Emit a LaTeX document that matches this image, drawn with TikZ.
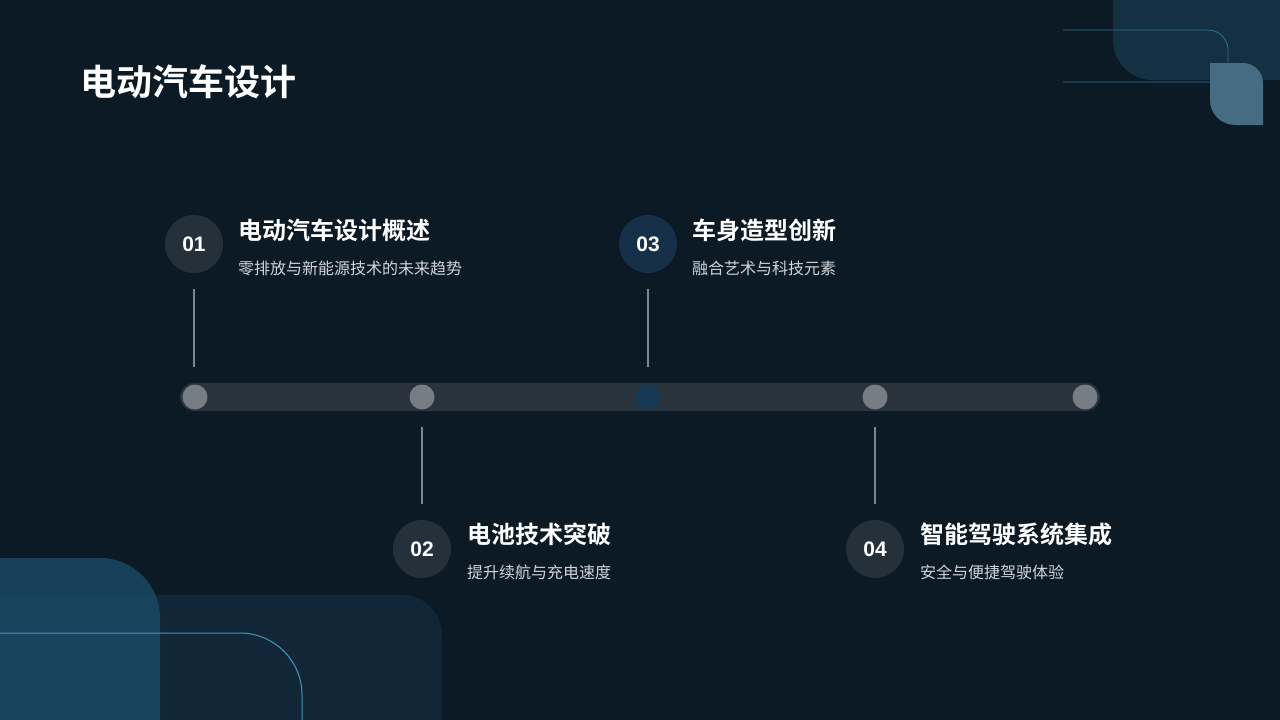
\documentclass[tikz,border=0pt]{standalone}
\usepackage{fontspec}
\setmainfont{Liberation Sans}
\newfontfamily\cjk{Noto Sans CJK SC}
\newfontfamily\cjkbold{Noto Sans CJK SC Bold}
\usetikzlibrary{positioning}
\definecolor{bgdark}{HTML}{0C1A25}
\definecolor{bardark}{HTML}{28333C}
\definecolor{dotgray}{HTML}{767D84}
\definecolor{dotblue}{HTML}{163A55}
\definecolor{numgray}{HTML}{25313A}
\definecolor{numblue}{HTML}{173049}
\definecolor{stemgray}{HTML}{7F868C}
\definecolor{subgray}{HTML}{D0D5DA}
\definecolor{decoA}{HTML}{1A4A66}
\definecolor{decoB}{HTML}{12293A}
\definecolor{decoline}{HTML}{4396C0}
\tikzset{
  numdot/.style={circle,minimum size=58pt,inner sep=0pt,text=white,font=\bfseries\fontsize{21}{21}\selectfont},
  bardot/.style={circle,minimum size=25pt,inner sep=0pt,fill=dotgray},
  itemtitle/.style={anchor=west,inner sep=0pt,text=white,font=\cjkbold\fontsize{24}{24}\selectfont},
  itemsub/.style={anchor=west,inner sep=0pt,text=subgray,font=\cjk\fontsize{16}{16}\selectfont},
  stem/.style={draw=stemgray,line width=1.2pt}
}
\begin{document}
\begin{tikzpicture}[x=1pt,y=-1pt]
				\fill[bgdark] (0,0) rectangle (1280,720);
				\useasboundingbox (0,0) rectangle (1280,720);
				
				% corner shapes
				\fill[decoB,opacity=0.9] (0,720) -- (0,595) -- (402,595) arc[start angle=-90,end angle=0,radius=40] -- (442,720) -- cycle;
				\fill[decoA,opacity=0.8] (0,720) -- (0,558) -- (100,558) arc[start angle=-90,end angle=0,radius=60] -- (160,720) -- cycle;
				\draw[decoline,line width=1pt] (0,633) -- (240,633) arc[start angle=-90,end angle=0,radius=62] -- (302,720);
				\fill[decoB!80!decoA] (1113,0) -- (1280,0) -- (1280,80) -- (1153,80) arc[start angle=90,end angle=180,radius=40] -- cycle;
				\fill[decoA!90!white!90] (1210,63) -- (1243,63) arc[start angle=-90,end angle=0,radius=20] -- (1263,125) -- (1235,125) arc[start angle=90,end angle=180,radius=25] -- cycle;
				\draw[decoline!70!bgdark,line width=0.8pt] (1063,82) -- (1228,82) -- (1228,50) arc[start angle=0,end angle=-90,radius=20] -- (1063,30);
				
				\node[anchor=west,inner sep=0pt,text=white,font=\cjkbold\fontsize{36}{36}\selectfont] (title) at (80,82) {电动汽车设计};
				
				% timeline
				\fill[bardark,rounded corners=14pt] (180,383) rectangle (1100,411);
				\node[bardot] (d1) at (195,397) {};
				\node[bardot] (d2) at (422,397) {};
				\node[bardot,fill=dotblue] (d3) at (648,397) {};
				\node[bardot] (d4) at (875,397) {};
				\node[bardot] (d5) at (1085,397) {};
				
				\node[numdot,fill=numgray] (n1) at (194,244) {01};
				\node[numdot,fill=numgray] (n2) at (422,549) {02};
				\node[numdot,fill=numblue] (n3) at (648,244) {03};
				\node[numdot,fill=numgray] (n4) at (875,549) {04};
				
				\coordinate (s1) at (194,367);
				\coordinate (s2) at (422,427);
				\coordinate (s3) at (648,367);
				\coordinate (s4) at (875,427);
				\draw[stem] ([yshift=-16pt]n1.south) -- (s1);
				\draw[stem] ([yshift=16pt]n2.north) -- (s2);
				\draw[stem] ([yshift=-16pt]n3.south) -- (s3);
				\draw[stem] ([yshift=16pt]n4.north) -- (s4);
				
				\node[itemtitle] (t1) at (238,230) {电动汽车设计概述};
				\node[itemsub] (u1) at (238,268) {零排放与新能源技术的未来趋势};
				\node[itemtitle] (t2) at (467,534) {电池技术突破};
				\node[itemsub] (u2) at (467,572) {提升续航与充电速度};
				\node[itemtitle] (t3) at (692,230) {车身造型创新};
				\node[itemsub] (u3) at (692,268) {融合艺术与科技元素};
				\node[itemtitle] (t4) at (920,534) {智能驾驶系统集成};
				\node[itemsub] (u4) at (920,572) {安全与便捷驾驶体验};
				
			\end{tikzpicture}
\end{document}
